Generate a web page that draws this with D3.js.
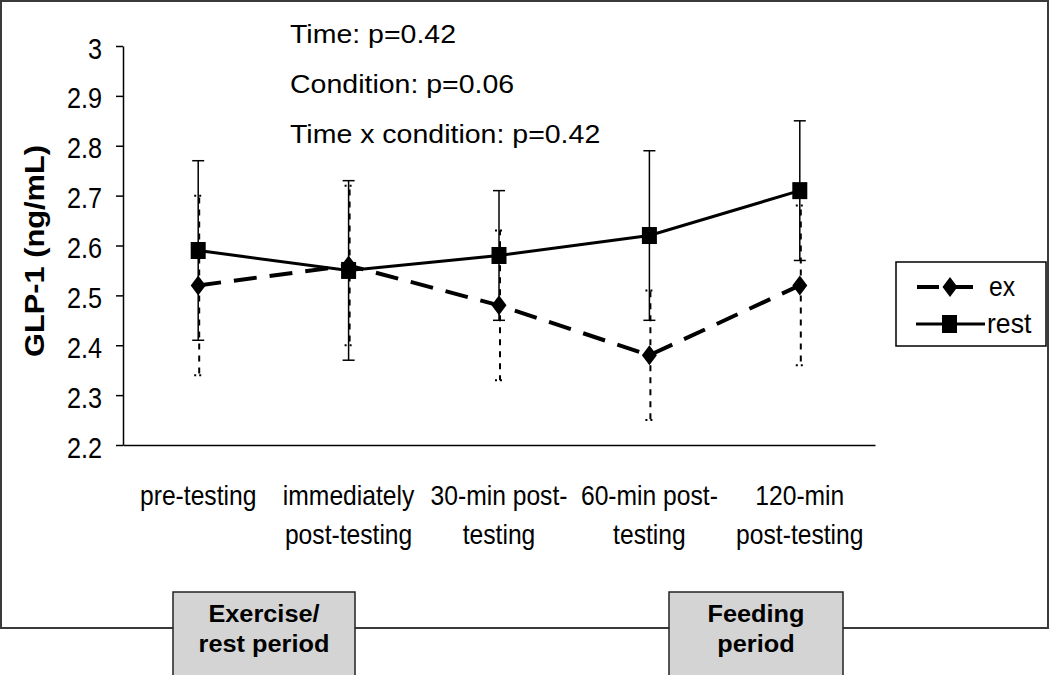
<!DOCTYPE html>
<html>
<head>
<meta charset="utf-8">
<script src="https://cdn.jsdelivr.net/npm/d3@7"></script>
<style>
  html, body { margin: 0; padding: 0; background: #fff; }
  svg { display: block; }
  text { font-family: "Liberation Sans", Arial, sans-serif; fill: #000; }
</style>
</head>
<body>
<svg id="chart" width="1050" height="675"></svg>
<script>
// ---- data ----
const categories = ["pre-testing", "immediately post-testing", "30-min post-testing", "60-min post-testing", "120-min post-testing"];
const categoryLines = [["pre-testing"], ["immediately", "post-testing"], ["30-min post-", "testing"], ["60-min post-", "testing"], ["120-min", "post-testing"]];
const exMean  = [2.52, 2.56, 2.48, 2.38, 2.52];
const exUpper = [2.70, 2.72, 2.63, 2.51, 2.68];
const exLower = [2.34, 2.40, 2.33, 2.25, 2.36];
const restMean  = [2.59, 2.55, 2.58, 2.62, 2.71];
const restUpper = [2.77, 2.73, 2.71, 2.79, 2.85];
const restLower = [2.41, 2.37, 2.45, 2.45, 2.57];
const yTicks = [2.2, 2.3, 2.4, 2.5, 2.6, 2.7, 2.8, 2.9, 3];
const yTickLabels = ["2.2", "2.3", "2.4", "2.5", "2.6", "2.7", "2.8", "2.9", "3"];
const annotations = ["Time: p=0.42", "Condition: p=0.06", "Time x condition: p=0.42"];
const seriesNames = ["ex", "rest"];
const periodBoxes = [
  { lines: ["Exercise/", "rest period"], from: 0, to: 1 },
  { lines: ["Feeding", "period"], from: 3, to: 4 }
];

// ---- layout ----
const svg = d3.select("#chart");
const plot = { left: 123, right: 875, top: 46, bottom: 445 };
const x = d3.scaleBand().domain(categories).range([plot.left, plot.right]).padding(0);
const cx = i => x(categories[i]) + x.bandwidth() / 2;
const y = d3.scaleLinear().domain([2.2, 3]).range([plot.bottom, plot.top]);

function fit(sel, factor) {
  sel.each(function () {
    const w = this.getComputedTextLength();
    d3.select(this).attr("textLength", w * factor).attr("lengthAdjust", "spacingAndGlyphs");
  });
}

// outer frame
svg.append("rect").attr("x", 1).attr("y", 1).attr("width", 1047).attr("height", 627)
  .attr("fill", "#fff").attr("stroke", "#3a3a3a").attr("stroke-width", 2);

// y axis
const yAxis = d3.axisLeft(y).tickValues(yTicks)
  .tickFormat((d, i) => yTickLabels[i]).tickSize(7).tickSizeOuter(0).tickPadding(14);
const gy = svg.append("g").attr("transform", `translate(${plot.left},0)`).call(yAxis);
gy.select(".domain").attr("stroke", "#000").attr("stroke-width", 1.5);
gy.selectAll(".tick line").attr("stroke", "#000").attr("stroke-width", 1.5);
gy.selectAll(".tick text").attr("font-size", 29).attr("dy", null).attr("y", 12)
  .attr("font-family", "'Liberation Sans', Arial, sans-serif").attr("fill", "#000")
  .call(fit, 0.87);

// x axis (line only; labels custom)
const xAxis = d3.axisBottom(x).tickSize(0).tickFormat("");
const gx = svg.append("g").attr("transform", `translate(0,${plot.bottom})`).call(xAxis);
gx.select(".domain").attr("stroke", "#000").attr("stroke-width", 1.5);

// category labels
categoryLines.forEach((lines, i) => {
  lines.forEach((ln, j) => {
    svg.append("text").attr("x", cx(i)).attr("y", 505 + j * 39)
      .attr("text-anchor", "middle").attr("font-size", 28).text(ln).call(fit, 0.88);
  });
});

// y title
svg.append("text").attr("transform", "translate(44,251) rotate(-90)")
  .attr("text-anchor", "middle").attr("font-size", 27).attr("font-weight", "bold")
  .attr("textLength", 212).attr("lengthAdjust", "spacingAndGlyphs")
  .text("GLP-1 (ng/mL)");

// annotations
annotations.forEach((t, i) => {
  svg.append("text").attr("x", 290).attr("y", 43 + i * 50).attr("font-size", 25)
    .text(t).call(fit, 1.14);
});

// error bars - rest (solid)
const idx = d3.range(categories.length);
const gRestErr = svg.append("g").attr("stroke", "#000").attr("stroke-width", 1.5);
idx.forEach(i => {
  gRestErr.append("line").attr("x1", cx(i)).attr("x2", cx(i)).attr("y1", y(restUpper[i])).attr("y2", y(restLower[i]));
  [restUpper[i], restLower[i]].forEach(v => {
    gRestErr.append("line").attr("x1", cx(i) - 6).attr("x2", cx(i) + 6).attr("y1", y(v)).attr("y2", y(v));
  });
});

// lines
const line = d3.line().x((d, i) => cx(i)).y(d => y(d));
svg.append("path").datum(restMean).attr("d", line).attr("fill", "none")
  .attr("stroke", "#000").attr("stroke-width", 3);
svg.append("path").datum(exMean).attr("d", line).attr("fill", "none")
  .attr("stroke", "#000").attr("stroke-width", 4).attr("stroke-dasharray", "23,13");

// error bars - ex (dotted)
const gExErr = svg.append("g").attr("stroke", "#000").attr("stroke-width", 2);
idx.forEach(i => {
  const xx = cx(i) + 1;
  gExErr.append("line").attr("x1", xx).attr("x2", xx).attr("y1", y(exMean[i]) - 10).attr("y2", y(exUpper[i]))
    .attr("stroke-dasharray", "6,6");
  gExErr.append("line").attr("x1", xx).attr("x2", xx).attr("y1", y(exMean[i]) + 10).attr("y2", y(exLower[i]))
    .attr("stroke-dasharray", "6,6");
  [exUpper[i], exLower[i]].forEach(v => {
    gExErr.append("line").attr("x1", xx - 5).attr("x2", xx + 5).attr("y1", y(v)).attr("y2", y(v))
      .attr("stroke-dasharray", "2,3");
  });
});

// markers
const diamond = (px, py) => `M${px},${py - 10}L${px + 7.5},${py}L${px},${py + 10}L${px - 7.5},${py}Z`;
svg.append("g").selectAll("rect").data(restMean).join("rect")
  .attr("x", (d, i) => cx(i) - 7.5).attr("y", d => y(d) - 8.5)
  .attr("width", 15).attr("height", 17).attr("fill", "#000");
svg.append("g").selectAll("path").data(exMean).join("path")
  .attr("d", (d, i) => diamond(cx(i), y(d))).attr("fill", "#000");

// legend
const lg = svg.append("g");
lg.append("rect").attr("x", 896).attr("y", 262).attr("width", 150).attr("height", 84)
  .attr("fill", "#fff").attr("stroke", "#000").attr("stroke-width", 1.5);
lg.append("line").attr("x1", 917).attr("x2", 973).attr("y1", 287).attr("y2", 287)
  .attr("stroke", "#000").attr("stroke-width", 4).attr("stroke-dasharray", "22,12");
lg.append("path").attr("d", diamond(950, 287)).attr("fill", "#000");
lg.append("line").attr("x1", 916).attr("x2", 985).attr("y1", 324).attr("y2", 324)
  .attr("stroke", "#000").attr("stroke-width", 3);
lg.append("rect").attr("x", 942).attr("y", 315).attr("width", 15).attr("height", 18).attr("fill", "#000");
lg.append("text").attr("x", 989).attr("y", 296).attr("font-size", 28).text(seriesNames[0]).call(fit, 0.88);
lg.append("text").attr("x", 987).attr("y", 333).attr("font-size", 28).text(seriesNames[1]).call(fit, 0.95);

// period boxes
periodBoxes.forEach(b => {
  const x0 = b.from === 0 ? 173 : 669;
  const x1 = b.from === 0 ? 355 : 843;
  svg.append("rect").attr("x", x0).attr("y", 592).attr("width", x1 - x0).attr("height", 90)
    .attr("fill", "#d4d4d4").attr("stroke", "#222").attr("stroke-width", 1.5);
  b.lines.forEach((t, j) => {
    svg.append("text").attr("x", (x0 + x1) / 2).attr("y", 622 + j * 30)
      .attr("text-anchor", "middle").attr("font-size", 23).attr("font-weight", "bold")
      .text(t).call(fit, 1.1);
  });
});
</script>
</body>
</html>
